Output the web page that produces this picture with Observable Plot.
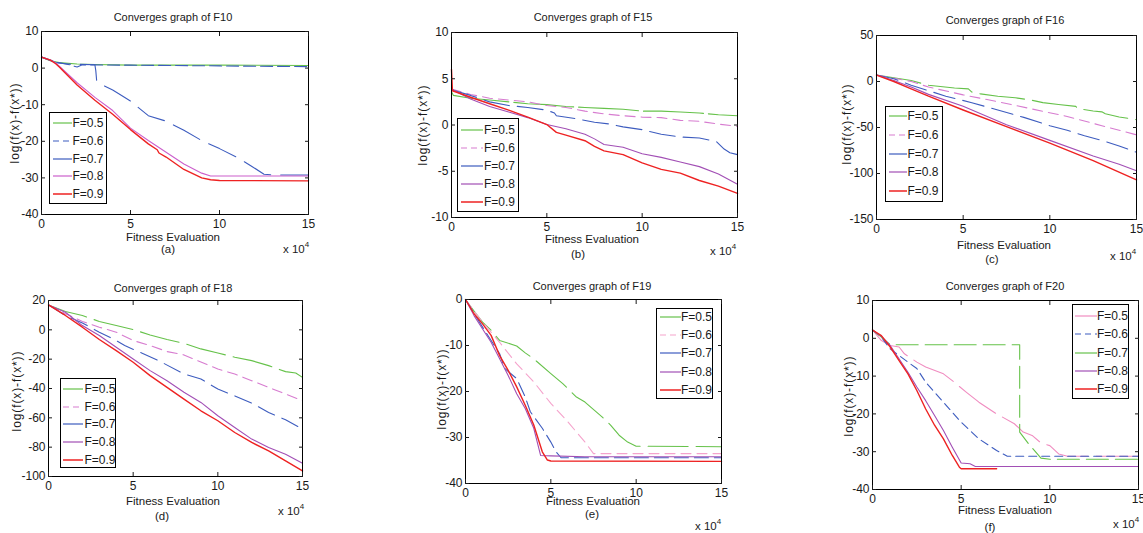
<!DOCTYPE html>
<html><head><meta charset="utf-8">
<script src="https://cdn.jsdelivr.net/npm/d3@7"></script>
<script src="https://cdn.jsdelivr.net/npm/@observablehq/plot@0.6"></script>
<style>
body{margin:0;background:#fff;}
#root{position:relative;width:1143px;height:533px;overflow:hidden;font-family:"Liberation Sans",Arial,sans-serif;color:#1a1a1a;}
.t{position:absolute;white-space:nowrap;line-height:1;}
.c{transform:translate(-50%,-50%);}
.yl{transform:translate(-50%,-50%) rotate(-90deg);letter-spacing:0.9px;}
.leg{position:absolute;border:1.5px solid #000;background:#fff;box-sizing:border-box;}
.leg div{position:absolute;font-size:12px;line-height:1;white-space:nowrap;}
svg{overflow:visible;}
</style></head><body><div id="root"></div>
<script>
// ---------- data ----------
const panelTitles = ["Converges graph of F10","Converges graph of F15","Converges graph of F16","Converges graph of F18","Converges graph of F19","Converges graph of F20"];
const panelTags = ["(a)","(b)","(c)","(d)","(e)","(f)"];
const legendLabels = ["F=0.5","F=0.6","F=0.7","F=0.8","F=0.9"];
const xTicks = [0,5,10,15];
const xLabel = "Fitness Evaluation";
const yLabel = "log(f(x)-f(x*))";
const yTicksA = [10,0,-10,-20,-30,-40];
const yTicksB = [10,5,0,-5,-10];
const yTicksC = [50,0,-50,-100,-150];
const yTicksD = [20,0,-20,-40,-60,-80,-100];
const yTicksE = [0,-10,-20,-30,-40];
const yTicksF = [10,0,-10,-20,-30,-40];

const a05 = [[0,3],[0.5,2],[1,1.5],[2,1.1],[3,1],[5,0.8],[10,0.8],[15,0.7]];
const a06 = [[0,3],[0.5,2.2],[0.8,1.6],[1.5,1],[2,0.3],[2.3,0.9],[5,0.8],[10,0.6],[12,0.5],[15,0.4]];
const a07 = [[0,3],[0.8,1.5],[1.5,1.1],[3,0.9],[3.05,-0.7],[3.1,-3.5],[3.5,-4.8],[4,-6],[4.5,-7.5],[5,-9],[6,-13],[7,-14.5],[8,-17],[9,-19.8],[10,-22],[11,-24.4],[11.8,-26.8],[12.5,-29],[13,-29.2],[15,-29.2]];
const a08 = [[0,3],[0.5,2.2],[0.8,1.4],[1,0.5],[2,-4],[3,-8],[4,-11.6],[5,-16.4],[6,-19.8],[7,-23],[8,-26.2],[9,-28.7],[9.5,-29.5],[15,-29.5]];
const a09 = [[0,3],[0.5,2.2],[0.8,1.2],[1,0.3],[2,-4.6],[3,-8.8],[4,-12.6],[5,-16.8],[6,-20.7],[6.5,-22.3],[6.6,-23.2],[7,-24.3],[8,-27.7],[9,-30],[9.5,-30.5],[10,-30.7],[15,-30.8]];

const b05 = [[0,3.6],[0.1,3.2],[1,2.9],[2,2.7],[3,2.5],[4,2.3],[5,2.2],[6,2.0],[7,1.9],[8,1.8],[9,1.7],[10,1.5],[11,1.5],[12,1.4],[13,1.3],[14,1.1],[15,1.0]];
const b06 = [[0,3.9],[1,3.3],[2,2.9],[3,2.7],[4,2.5],[5,2.1],[6,1.9],[7,1.5],[8,1.2],[9,1.0],[10,0.85],[11,0.8],[12,0.5],[13,0.4],[14,0.1],[15,-0.15]];
const b07 = [[0,3.8],[1,3.2],[2,2.5],[3,2.1],[4,1.9],[5,1.6],[5.4,1.3],[5.5,1.0],[6.5,0.7],[7.5,0.3],[8.3,0.1],[9,-0.2],[10,-0.5],[11,-1.0],[12,-1.3],[13,-1.4],[13.9,-1.8],[14.3,-2.6],[14.6,-3.0],[15,-3.2]];
const b08 = [[0,3.9],[1,2.8],[2,2.0],[3,1.4],[4,0.8],[5,0.05],[6,-0.4],[7,-1.0],[7.5,-1.5],[8,-2.1],[9,-2.4],[10,-3.1],[11,-3.5],[12,-4.0],[13,-4.5],[14,-5.3],[15,-6.4]];
const b09 = [[0,6],[0.05,3.7],[1,3.0],[2,2.3],[3,1.6],[4,0.85],[5,0.05],[5.5,-0.8],[6,-1.1],[7,-1.7],[7.5,-2.3],[8,-2.8],[9,-3.2],[10,-4.1],[11,-4.8],[12,-5.2],[13,-6.0],[14,-6.6],[15,-7.4]];

const c05 = [[0,7],[1,4],[2,1],[3,-4],[4.5,-7],[5.3,-8],[5.5,-11.5],[6,-13.5],[7,-16],[8,-17.6],[9,-20.5],[9.6,-23],[10.5,-25],[11.5,-27],[11.6,-29.5],[12.5,-32],[13,-33],[13.2,-35],[14,-38.6],[15,-41.5]];
const c06 = [[0,7],[1,3.5],[2,0],[3,-6],[5,-14.5],[7,-22],[9,-30],[11,-38],[13,-48],[15,-58]];
const c07 = [[0,7],[1,3],[2,-4],[3,-10],[4,-16],[5.5,-23],[7,-31],[8.5,-39],[10,-48],[11,-53],[12,-59],[13,-64],[14,-70],[15,-77]];
const c08 = [[0,7],[1,1],[2,-6],[3,-14],[5,-27],[7.5,-47],[10,-64],[12.5,-81],[14,-90],[15,-97]];
const c09 = [[0,7],[1,0],[2,-8],[3,-16],[5,-31],[7.5,-49],[10,-67],[12.5,-86],[15,-107]];

const d05 = [[0,17],[1,12.5],[2,9.8],[3,5.7],[4,2.9],[5,0.2],[6,-3.5],[7,-6.6],[8,-9.2],[9,-13],[10,-15.8],[11,-18.7],[12,-21],[13,-24.4],[14,-28.5],[14.6,-29.4],[15,-32.4]];
const d06 = [[0,17],[1,11],[2,5.7],[3,1.8],[4,-1.6],[5,-7.3],[6,-10.7],[7,-14.8],[8,-17.1],[9,-22],[10,-26.7],[11,-30.1],[12,-34.7],[13,-39.2],[14,-43.8],[15,-48.3]];
const d07 = [[0,17],[1,9.8],[2,4.7],[3,-1.6],[4,-7.3],[4.5,-10.7],[5.5,-15.8],[6.5,-21],[8,-30.1],[9,-33.5],[10,-40.4],[11,-45],[12,-50],[13,-56.3],[14,-61.3],[15,-67.7]];
const d08 = [[0,17],[1,12],[2,2.9],[3,-3.9],[4,-11.9],[5,-19.9],[6,-27.8],[7,-34.7],[8,-42.6],[9,-49.5],[10,-58.6],[11,-66.6],[12,-74.5],[13,-80.2],[14,-84.8],[15,-90.9]];
const d09 = [[0,17],[1,9.8],[2,1.8],[3,-6.6],[4,-14.2],[5,-22.1],[6,-31.2],[7,-39.2],[8,-47.2],[9,-55.2],[10,-62],[11,-70],[12,-76.8],[13,-82.5],[14,-89.3],[15,-96.2]];

const e05 = [[0,0],[0.5,-2.5],[1,-4.9],[1.5,-6.7],[2,-8.9],[3,-10.1],[3.5,-11.6],[4,-12.9],[5,-16.1],[5.7,-18.3],[6.5,-21.2],[7,-22.3],[8,-25.5],[8.5,-27.3],[9,-29.5],[9.5,-31],[10,-31.9],[15,-32]];
const e06 = [[0,0],[0.5,-2.5],[1,-4.9],[2,-9.3],[3,-14],[4,-17.9],[5,-22.6],[6,-26.6],[7,-31],[7.5,-33.5],[15,-33.5]];
const e07 = [[0,0],[0.5,-3],[1,-6],[2,-11.8],[2.3,-15],[3,-17.2],[3.5,-21.2],[3.8,-24.4],[4.5,-28],[5,-31],[5.3,-33.1],[5.6,-34.4],[15,-34.4]];
const e08 = [[0,0],[0.5,-3.5],[1,-6.4],[1.5,-9.3],[2,-12.9],[2.5,-16.5],[3,-20.5],[3.5,-23.7],[4,-28],[4.4,-33.9],[5,-34],[7,-34.2],[15,-34.2]];
const e09 = [[0,0],[0.5,-3.1],[1,-5.3],[1.5,-7.8],[2,-12.2],[2.5,-15.4],[3,-19],[3.5,-23],[4,-27.3],[4.5,-33.1],[4.8,-34.9],[5,-35.1],[15,-35.2]];

const f05 = [[0,2.2],[0.5,-0.6],[1,-1.9],[1.5,-2.3],[1.8,-4.1],[2.5,-6.3],[3,-7.6],[4,-9.4],[4.5,-11.2],[5.3,-14.3],[6,-16.9],[7,-20],[8,-22.6],[8.5,-24.8],[9,-25.7],[9.5,-27.7],[10,-28.4],[10.5,-30.6],[11,-31.2],[15,-31.2]];
const f06 = [[0,2.2],[0.5,0.3],[1,-2.8],[2,-6.3],[2.5,-8],[3,-11.6],[4,-16.9],[5,-22.2],[6,-26.6],[7,-29.7],[7.6,-31.2],[15,-31.2]];
const f07 = [[0,2.2],[0.5,0.3],[1,-1.7],[8.3,-1.7],[8.3,-24.8],[8.8,-27.9],[9.5,-31.7],[10,-32],[15,-32]];
const f08 = [[0,2.2],[0.5,0.5],[1,-1.9],[2,-9],[2.5,-12.9],[3,-16.5],[3.5,-20.4],[4,-24.4],[4.5,-28.8],[5,-33],[5.5,-33.2],[5.8,-33.9],[15,-33.9]];
const f09 = [[0,2.2],[0.5,0.7],[1,-2.3],[1.5,-5.9],[2,-9.4],[2.5,-13.8],[3,-18.7],[3.5,-23],[4,-26.6],[4.5,-31],[4.9,-34.1],[5,-34.5],[7,-34.5]];

// ---------- styles / layout ----------
const G="#66c24a", B="#3d5cbf", M="#cc5fcc", P="#a24fb5", PK="#d77cd0", LPK="#f5a3cc", PK2="#f08cc0", R="#ee2222";
const panels = [
  {series:[a05,a06,a07,a08,a09], yt:yTicksA, colors:[G,B,B,M,R], dash:[null,"12,5","30,10",null,null],
   frame:[41,308,31,214], title:[173,17], xl:[173,238], tag:[168,250], x10:[283,241], yl:[15,123],
   legend:{box:[49,112,58,92], rows:[123.3,141,159,176.7,194.3], line:[4,23], text:24}},
  {series:[b05,b06,b07,b08,b09], yt:yTicksB, colors:[G,PK,B,P,R], dash:["60,5","10,6","26,8",null,null],
   frame:[451,737,32,217], title:[593,17], xl:[592,240], tag:[578,255], x10:[710,243], yl:[423,125],
   legend:{box:[457,118,62,94], rows:[130,148,166,184.3,202.3], line:[4,26], text:27.5}},
  {series:[c05,c06,c07,c08,c09], yt:yTicksC, colors:[G,PK,B,P,R], dash:["45,8","10,6","22,8",null,null],
   frame:[876,1136,35,219], title:[1005,20], xl:[1004,246], tag:[992,260], x10:[1110,248], yl:[847,124],
   legend:{box:[885,106,58,96], rows:[116.7,135.3,154,172.6,191], line:[4,22], text:23}},
  {series:[d05,d06,d07,d08,d09], yt:yTicksD, colors:[G,PK,B,P,R], dash:["40,8","10,6","18,8",null,null],
   frame:[48,302,300,476], title:[173,288], xl:[173,502], tag:[162,517], x10:[278,503], yl:[17,391],
   legend:{box:[60,378,56,90], rows:[389.3,407,424.7,442.3,460], line:[3,23], text:25}},
  {series:[e05,e06,e07,e08,e09], yt:yTicksE, colors:[G,LPK,B,P,R], dash:["40,8","10,6","14,6",null,null],
   frame:[465,721,299,483], title:[592,286], xl:[593,502], tag:[592,515], x10:[695,518], yl:[442,389],
   legend:{box:[656,308,57,91], rows:[317.7,335.8,353.9,372,390], line:[4,25], text:25.5}},
  {series:[f05,f06,f07,f08,f09], yt:yTicksF, colors:[PK2,B,G,P,R], dash:["45,8","8,5","22,7",null,null],
   frame:[872,1138,300,489], title:[1005,286], xl:[1005,511], tag:[990,528], x10:[1113,516], yl:[849,396],
   legend:{box:[1072,304,57,95], rows:[316.7,334.9,353.1,371.3,389.5], line:[3,25], text:25.5}}
];
const ML=45, MR=8, MT=8, MB=30;

const root = document.getElementById("root");
function addText(html, x, y, cls, size) {
  const d = document.createElement("div");
  d.className = "t " + cls;
  d.style.left = x + "px"; d.style.top = y + "px"; d.style.fontSize = size + "px";
  d.innerHTML = html;
  root.appendChild(d);
}

panels.forEach((p, i) => {
  const [fl, fr, ft, fb] = p.frame;
  const w = fr - fl + ML + MR, h = fb - ft + MT + MB;
  const yd = [d3.min(p.yt), d3.max(p.yt)];
  const marks = [
    ...p.series.map((s, k) => Plot.line(s, {x: d => d[0], y: d => d[1], stroke: p.colors[k],
        strokeWidth: k === 4 ? 1.4 : 1.1, strokeDasharray: p.dash[k] || undefined})),
    Plot.frame({stroke: "#000", strokeWidth: 1}),
    Plot.axisX(xTicks, {anchor: "bottom", tickSize: 0, tickPadding: 5, label: null, tickFormat: d => String(d)}),
    Plot.axisX(xTicks, {anchor: "bottom", tickSize: -4, label: null, tickFormat: () => ""}),
    Plot.axisX(xTicks, {anchor: "top", tickSize: -4, label: null, tickFormat: () => ""}),
    Plot.axisY(p.yt, {anchor: "left", tickSize: 0, tickPadding: 3, label: null, tickFormat: d => String(d)}),
    Plot.axisY(p.yt, {anchor: "left", tickSize: -4, label: null, tickFormat: () => ""}),
    Plot.axisY(p.yt, {anchor: "right", tickSize: -4, label: null, tickFormat: () => ""})
  ];
  const svg = Plot.plot({
    width: w, height: h, marginLeft: ML, marginRight: MR, marginTop: MT, marginBottom: MB,
    x: {domain: [0, 15]}, y: {domain: yd},
    style: {fontFamily: "Liberation Sans, Arial, sans-serif", fontSize: "12px", background: "transparent", color: "#1a1a1a"},
    marks
  });
  svg.style.position = "absolute";
  svg.style.left = (fl - ML) + "px";
  svg.style.top = (ft - MT) + "px";
  root.appendChild(svg);

  addText(panelTitles[i], p.title[0], p.title[1], "c", 11);
  addText(xLabel, p.xl[0], p.xl[1], "c", 11.5);
  addText(panelTags[i], p.tag[0], p.tag[1], "c", 11.5);
  addText("x 10<sup style='font-size:8px;vertical-align:6px'>4</sup>", p.x10[0], p.x10[1], "", 11.5);
  addText(yLabel, p.yl[0], p.yl[1], "yl", 12);

  // legend
  const L = p.legend;
  const box = document.createElement("div");
  box.className = "leg";
  box.style.left = L.box[0] + "px"; box.style.top = L.box[1] + "px";
  box.style.width = L.box[2] + "px"; box.style.height = L.box[3] + "px";
  legendLabels.forEach((lab, k) => {
    const cy = L.rows[k] - L.box[1];
    const ns = "http://www.w3.org/2000/svg";
    const s = document.createElementNS(ns, "svg");
    s.setAttribute("width", L.box[2]); s.setAttribute("height", 4);
    s.style.position = "absolute"; s.style.left = "-1.5px"; s.style.top = (cy - 2 - 1.5) + "px";
    const ln = document.createElementNS(ns, "line");
    ln.setAttribute("x1", L.line[0]); ln.setAttribute("x2", L.line[1]);
    ln.setAttribute("y1", 2); ln.setAttribute("y2", 2);
    ln.setAttribute("stroke", p.colors[k]); ln.setAttribute("stroke-width", k === 4 ? 1.5 : 1.2);
    if (k === 1) ln.setAttribute("stroke-dasharray", "6,4");
    s.appendChild(ln); box.appendChild(s);
    const t = document.createElement("div");
    t.textContent = lab;
    t.style.left = (L.text - 1.5) + "px"; t.style.top = (cy - 6 - 1.5) + "px";
    box.appendChild(t);
  });
  root.appendChild(box);
});
</script></body></html>
